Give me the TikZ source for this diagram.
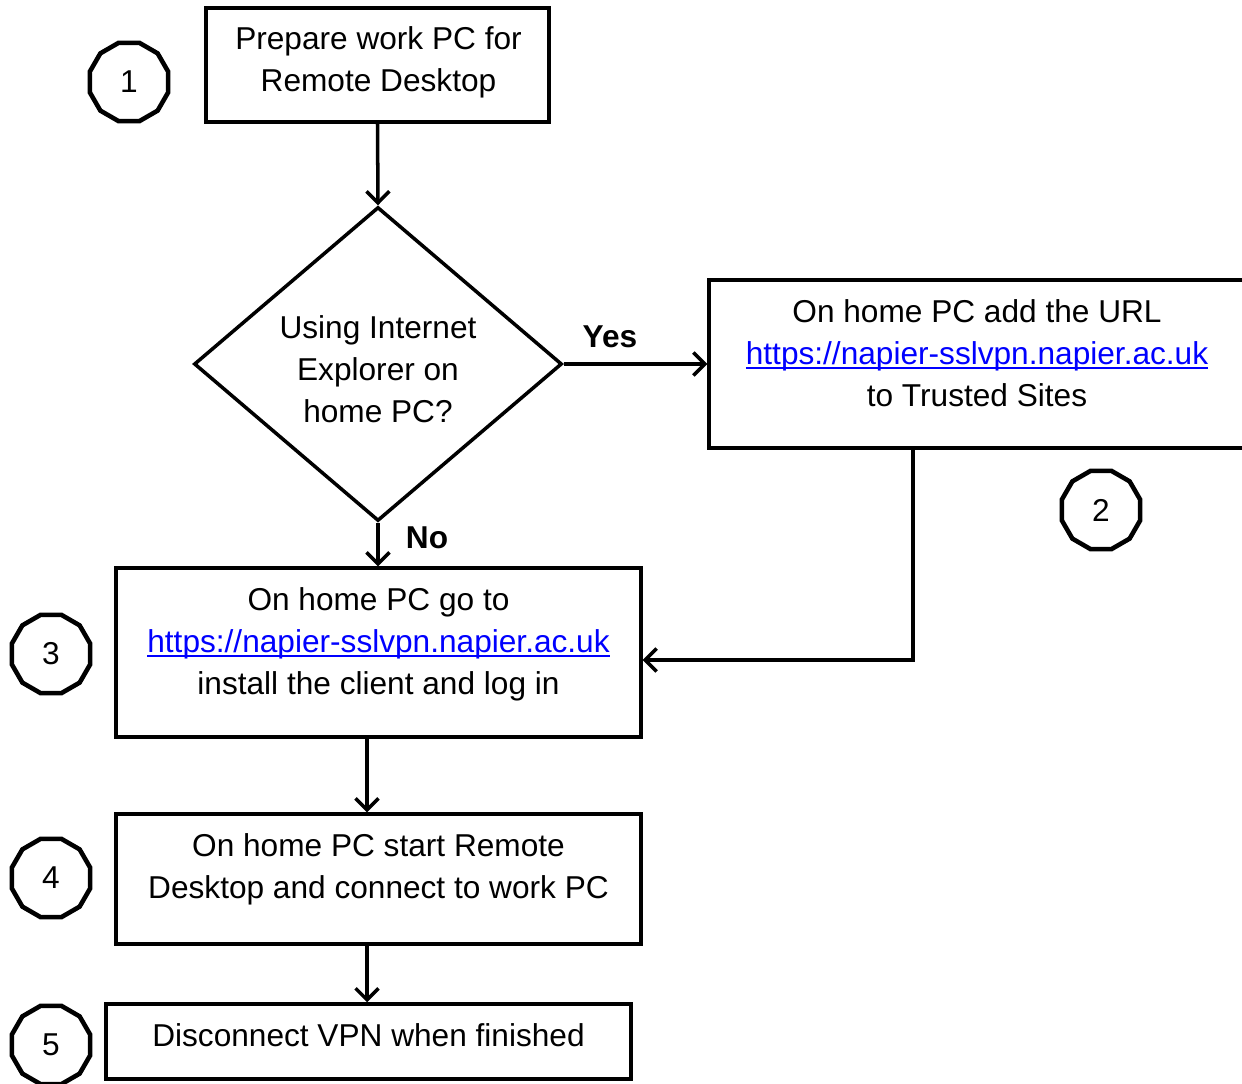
\documentclass[tikz,border=0pt]{standalone}
\usepackage{fontspec}
\setmainfont{Liberation Sans}
\usetikzlibrary{shapes.geometric,arrows.meta,calc}
\definecolor{linkblue}{RGB}{0,0,255}
\newcommand\myurl[1]{\textcolor{linkblue}{\setbox0\hbox{#1}\rlap{\rule[-2.6pt]{\wd0}{1pt}}\box0}}
\tikzset{
  box/.style={draw, line width=2pt, rectangle, inner sep=0pt},
  txt/.style={align=center, inner sep=0pt, font=\fontsize{18}{24}\selectfont},
  num/.style={draw, line width=2.6pt, regular polygon, regular polygon sides=12, minimum size=1.62cm, inner sep=0pt, font=\fontsize{18}{24}\selectfont},
  lbl/.style={inner sep=0pt, font=\fontsize{18}{24}\selectfont\bfseries},
  arr/.style={line width=2pt, -{Straight Barb[length=6.5pt,width=13pt]}},
}
\begin{document}
\begin{tikzpicture}[x=0.02cm,y=-0.02cm]
\useasboundingbox (0,0) rectangle (1242,1084);
% boxes
\node[box, minimum width=6.86cm, minimum height=2.28cm] (b1) at (377.5,65) {};
\node[txt] (t1) at (378.5,62) {Prepare work PC for\\Remote Desktop};
\node[draw, line width=2pt, diamond, minimum width=7.36cm, minimum height=6.28cm, inner sep=0pt] (d) at (378,364) {};
\node[txt] (td) at (378,369.5) {Using Internet\\Explorer on\\home PC?};
\node[box, minimum width=10.72cm, minimum height=3.36cm] (b2) at (977,364) {};
\node[txt] (t2) at (977,353) {On home PC add the URL\\\myurl{https://napier-sslvpn.napier.ac.uk}\\to Trusted Sites};
\node[box, minimum width=10.5cm, minimum height=3.38cm] (b3) at (378.5,652.5) {};
\node[txt] (t3) at (378.5,644) {On home PC go to\\\myurl{https://napier-sslvpn.napier.ac.uk}\\install the client and log in};
\node[box, minimum width=10.5cm, minimum height=2.6cm] (b4) at (378.5,879) {};
\node[txt] (t4) at (378.5,869) {On home PC start Remote\\Desktop and connect to work PC};
\node[box, minimum width=10.5cm, minimum height=1.5cm] (b5) at (368.5,1041.5) {};
\node[txt] (t5) at (368.5,1035) {Disconnect VPN when finished};
% numbers
\node[num] (n1) at (129,82) {1};
\node[num] (n2) at (1101,510) {2};
\node[num] (n3) at (51,654) {3};
\node[num] (n4) at (51,878) {4};
\node[num] (n5) at (51,1045) {5};
% labels
\node[lbl] (yes) at (610,337) {Yes};
\node[lbl] (no) at (427,538) {No};
% connectors
\draw[arr] (b1.south) -- (d.north);
\draw[arr] (d.east) -- (b2.west);
\draw[arr] (d.south) -- (d.south |- b3.north);
\draw[arr] ($(b2.south)+(-64,0)$) |- ($(b3.east)+(0,7.5)$);
\coordinate (c34) at ($(b3.south)+(-11.5,0)$);
\draw[arr] (c34) -- (c34 |- b4.north);
\coordinate (c45) at ($(b4.south)+(-11.5,0)$);
\draw[arr] (c45) -- (c45 |- b5.north);
\end{tikzpicture}
\end{document}
